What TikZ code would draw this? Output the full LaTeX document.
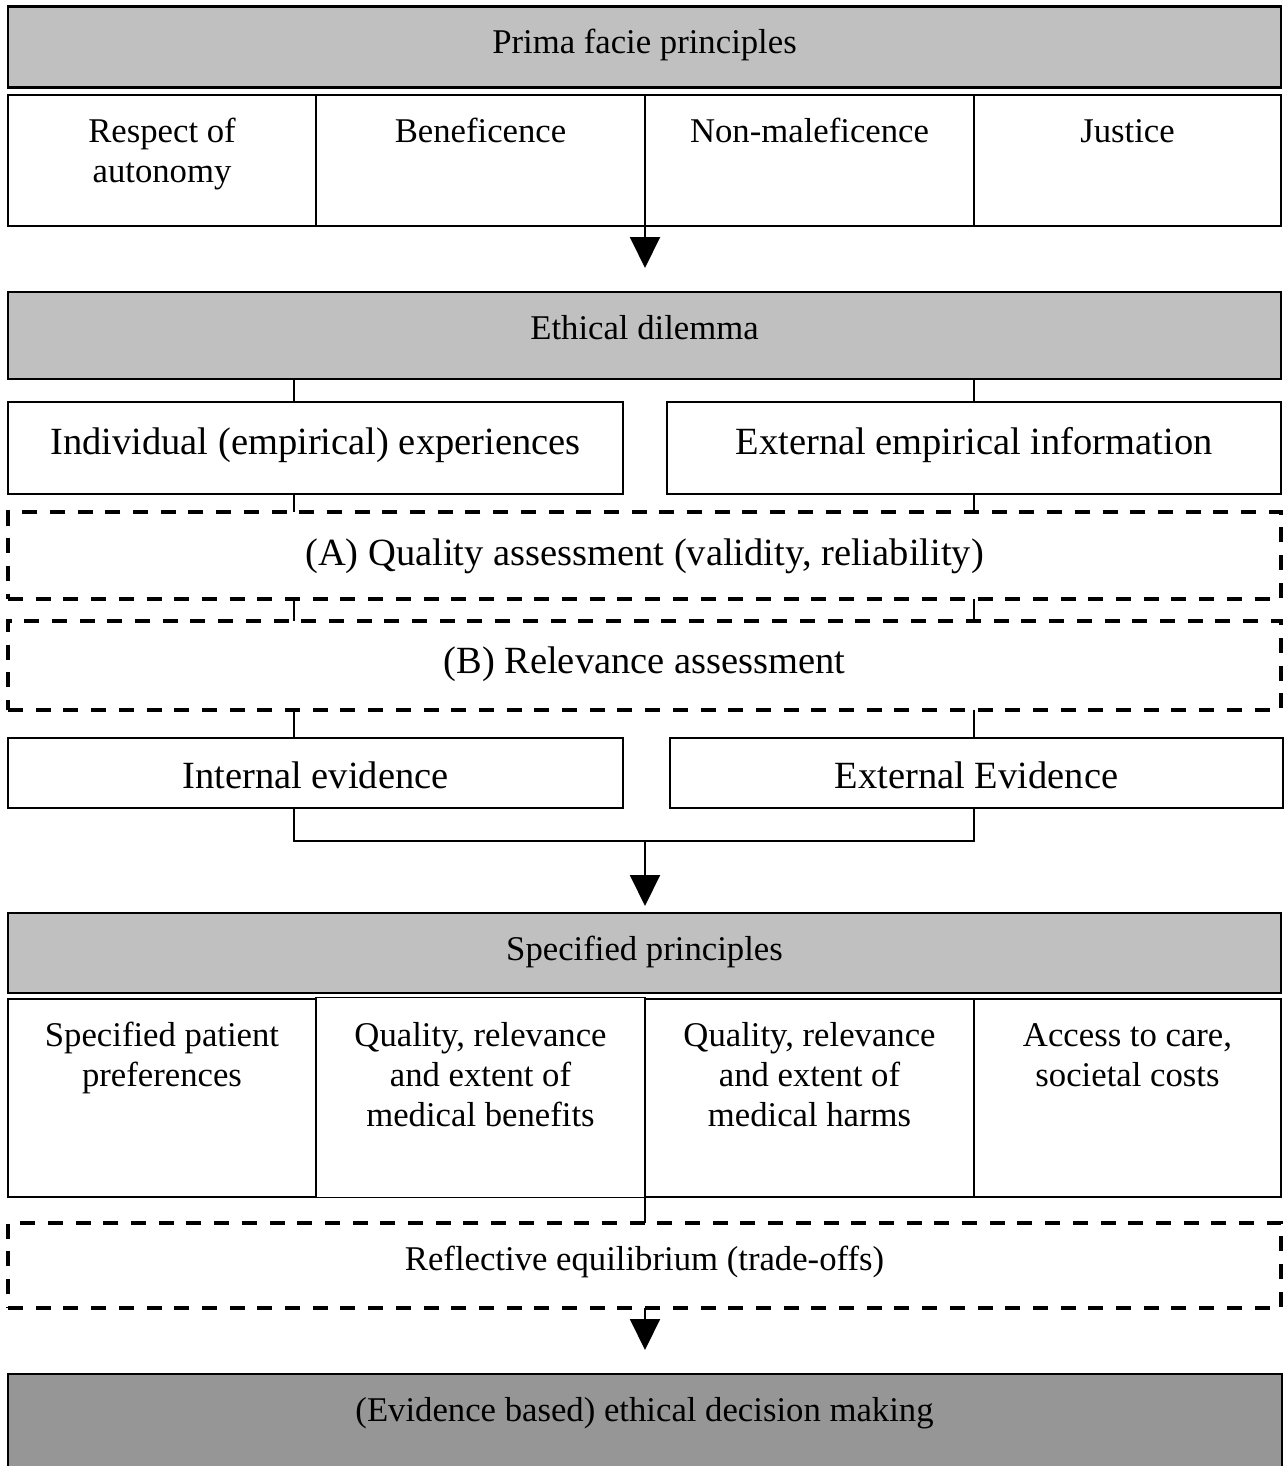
\documentclass[tikz,border=0pt]{standalone}
\usepackage{fontspec}
\setmainfont{Liberation Serif}
\usetikzlibrary{arrows.meta}
\definecolor{grayA}{RGB}{192,192,192}
\definecolor{grayB}{RGB}{150,150,150}
\newcommand\smallfnt{\fontsize{34.7}{40}\selectfont}
\newcommand\largefnt{\fontsize{38.5}{46}\selectfont}
\tikzset{
  box/.style={draw, line width=2.5pt, rectangle, inner sep=0pt, outer sep=0pt, anchor=north west},
  thinbox/.style={box, line width=1.5pt},
  graybox/.style={box, fill=grayA},
  darkbox/.style={box, fill=grayB},
  dbox/.style={box, line width=4pt, dash pattern=on 15pt off 12.7pt},
  stxt/.style={anchor=north, align=center, inner sep=0pt, font=\smallfnt},
  ltxt/.style={anchor=north, align=center, inner sep=0pt, font=\largefnt},
  conn/.style={line width=2pt},
  arr/.style={conn, -{Triangle[width=30pt,length=31pt]}},
}
\begin{document}
\begin{tikzpicture}[x=1pt,y=-1pt]
\useasboundingbox (0,0) rectangle (1283,1466);
\coordinate (L) at (294,0);
\coordinate (M) at (645,0);
\coordinate (R) at (974,0);

% Prima facie principles
\node[graybox, minimum width=1273pt, minimum height=81pt] (prima) at (8,6.5) {};
\node[stxt] (tprima) at (644.5,25.5) {\strut Prima facie principles};
\node[box, minimum width=308pt, minimum height=131pt] (a1) at (8,95) {};
\node[box, minimum width=329pt, minimum height=131pt] (a2) at (316,95) {};
\node[box, minimum width=329pt, minimum height=131pt] (a3) at (645,95) {};
\node[box, minimum width=307pt, minimum height=131pt] (a4) at (974,95) {};
\node[stxt] (ta1) at (162,114) {\strut Respect of\\autonomy};
\node[stxt] (ta2) at (480.5,114) {\strut Beneficence};
\node[stxt] (ta3) at (809.5,114) {\strut Non-maleficence};
\node[stxt] (ta4) at (1127.5,114) {\strut Justice};

% Ethical dilemma
\node[graybox, minimum width=1273pt, minimum height=87pt] (dil) at (8,292) {};
\node[stxt] (tdil) at (644.5,311) {\strut Ethical dilemma};
\draw[arr, shorten >=24pt] (a3.north west) -- (dil.north -| M);

\node[box, minimum width=615pt, minimum height=92pt] (ind) at (8,402) {};
\node[box, minimum width=614pt, minimum height=92pt] (ext) at (667,402) {};
\node[ltxt] (tind) at (315.5,421.8) {\strut Individual (empirical) experiences};
\node[ltxt] (text) at (974,421.8) {\strut External empirical information};
\draw[conn] (dil.south -| L) -- (ind.north -| L);
\draw[conn] (dil.south -| R) -- (ext.north -| R);

% dashed assessments
\node[dbox, minimum width=1273pt, minimum height=87pt] (qa) at (8,512) {};
\node[ltxt] (tqa) at (644.5,532.8) {\strut (A) Quality assessment (validity, reliability)};
\node[dbox, minimum width=1273pt, minimum height=89pt] (rb) at (8,620.5) {};
\node[ltxt] (trb) at (644.5,640.8) {\strut (B) Relevance assessment};
\draw[conn] (ind.south -| L) -- (qa.north -| L);
\draw[conn] (ext.south -| R) -- (qa.north -| R);
\draw[conn] (qa.south -| L) -- (rb.north -| L);
\draw[conn] (qa.south -| R) -- (rb.north -| R);

% evidence
\node[box, minimum width=615pt, minimum height=70pt] (inte) at (8,738) {};
\node[box, minimum width=613pt, minimum height=70pt] (exte) at (670,738) {};
\node[ltxt] (tinte) at (315.5,755.8) {\strut Internal evidence};
\node[ltxt] (texte) at (976.5,755.8) {\strut External Evidence};
\draw[conn] (rb.south -| L) -- (inte.north -| L);
\draw[conn] (rb.south -| R) -- (exte.north -| R);
\coordinate (J) at (645,841);
\draw[conn] (inte.south -| L) |- (J) -| (exte.south -| R);

% Specified principles
\node[graybox, minimum width=1273pt, minimum height=80pt] (spec) at (8,913) {};
\node[stxt] (tspec) at (644.5,932) {\strut Specified principles};
\draw[arr, shorten >=7pt] (J) -- (spec.north -| J);

\node[box, minimum width=308pt, minimum height=198pt] (b1) at (8,999) {};
\node[box, minimum width=329pt, minimum height=198pt] (b3) at (645,999) {};
\node[box, minimum width=307pt, minimum height=198pt] (b4) at (974,999) {};
\node[thinbox, minimum width=329pt, minimum height=200pt] (b2) at (316,997.5) {};
\node[stxt] (tb1) at (162,1018) {\strut Specified patient\\preferences};
\node[stxt] (tb2) at (480.5,1018) {\strut Quality, relevance\\and extent of\\medical benefits};
\node[stxt] (tb3) at (809.5,1018) {\strut Quality, relevance\\and extent of\\medical harms};
\node[stxt] (tb4) at (1127.5,1018) {\strut Access to care,\\societal costs};

% Reflective equilibrium
\node[dbox, minimum width=1273pt, minimum height=85pt] (refl) at (8,1223) {};
\node[stxt] (trefl) at (644.5,1242) {\strut Reflective equilibrium (trade-offs)};
\draw[conn] (b3.south west) -- (refl.north -| M);

% Final
\node[darkbox, minimum width=1274pt, minimum height=100pt] (fin) at (8,1374) {};
\node[stxt] (tfin) at (644.5,1393) {\strut (Evidence based) ethical decision making};
\draw[arr, shorten >=24pt] (refl.south -| M) -- (fin.north -| M);
\end{tikzpicture}
\end{document}
